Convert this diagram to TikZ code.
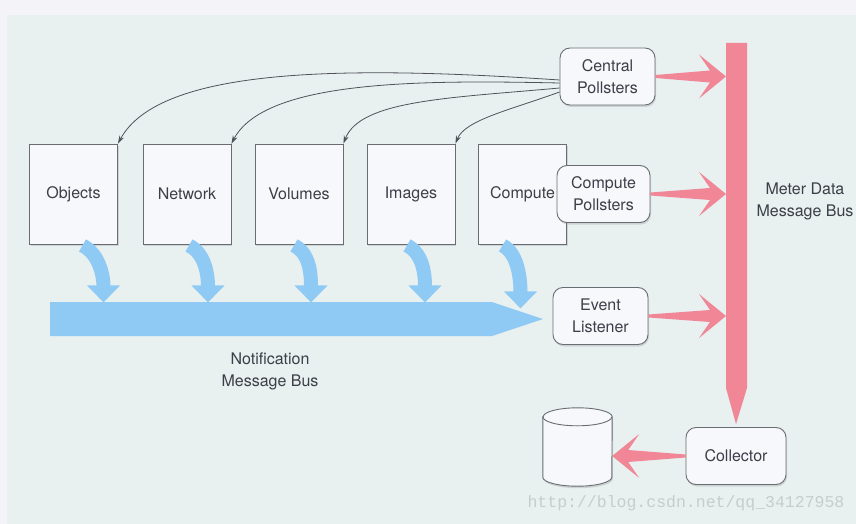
\documentclass[tikz,border=0pt]{standalone}
\usepackage{fontspec}
\setmainfont{TeX Gyre Heros}
\newfontfamily\wmfont{Liberation Mono}
\usetikzlibrary{arrows.meta,calc,shadows}

\definecolor{topbg}{RGB}{243,243,248}
\definecolor{slidebg}{RGB}{232,240,240}
\definecolor{notifblue}{RGB}{143,202,245}
\definecolor{meterred}{RGB}{240,134,150}
\definecolor{boxline}{RGB}{105,108,114}
\definecolor{boxfill}{RGB}{247,248,251}
\definecolor{txtgray}{RGB}{60,62,72}
\definecolor{pollgray}{RGB}{80,82,88}
\definecolor{wmgray}{RGB}{200,204,205}

% fat tapered arrow: from, tip, direction (1 = right, -1 = left)
\newcommand{\fatarrow}[3]{%
  \fill[meterred] ($(#1)+(0,1.5)$) -- ($(#2)+({-16*(#3)},6)$) -- ($(#2)+({-27*(#3)},22)$) -- (#2)
    -- ($(#2)+({-27*(#3)},-22)$) -- ($(#2)+({-16*(#3)},-6)$) -- ($(#1)+(0,-1.5)$) -- cycle;}

\begin{document}
\begin{tikzpicture}[x=1pt,y=1pt,
  font=\fontsize{16}{22}\selectfont, text=txtgray,
  boxshadow/.style={drop shadow={shadow xshift=1pt, shadow yshift=-2pt, opacity=0.25}},
  svcbox/.style={draw=boxline, fill=boxfill, line width=0.9pt, minimum width=88pt,
    minimum height=100pt, inner sep=0pt, boxshadow},
  pollbox/.style={draw=boxline, fill=boxfill, line width=0.9pt, rounded corners=10pt,
    minimum width=95pt, minimum height=57pt, align=center, inner sep=0pt, boxshadow},
  notifarrow/.style={notifblue, line width=14pt, -{Triangle[width=32pt,length=17pt]}},
  pollarrow/.style={draw=pollgray, line width=0.8pt, -{Stealth[length=8pt,width=5pt]}}]

  % Background
  \useasboundingbox (0,0) rectangle (856,-524);
  \fill[topbg] (0,0) rectangle (856,-524);
  \fill[slidebg] (7,-15) rectangle (856,-524);

  % Notification message bus
  \fill[notifblue] (50,-302) -- (492,-302) -- (543,-319) -- (492,-336) -- (50,-336) -- cycle;
  \node (notiflbl) at (270,-371.5) [align=center] {Notification\\Message Bus};

  % Services
  \foreach \nm/\lbl/\x in {obj/Objects/73.5, net/Network/187, vol/Volumes/299,
                           img/Images/411, cmp/Compute/522.5} {
    \node[svcbox] (\nm) at (\x,-194) {\lbl};
  }

  % Notifications onto the bus
  \foreach \nm/\a/\b/\e in {obj/9/30/58, net/2/21/58, vol/-5/12/58,
                            img/-4/14/58, cmp/-20/-2/64} {
    \draw[notifarrow] ($(\nm.south)+(\a,-1)$) .. controls +(16,-8) and +(0,28) ..
      ($(\nm.south)+(\b,-\e)$);
  }

  % Pollsters and listener
  \node[pollbox] (cp) at (607.5,-76.5) {Central\\Pollsters};
  \node[pollbox, minimum width=93pt] (cpp) at (603.5,-194) {Compute\\Pollsters};
  \node[pollbox] (el) at (600.5,-316) {Event\\Listener};
  \node[pollbox, minimum width=100pt] (col) at (736,-456) {Collector};

  % Storage
  \node[minimum width=69pt, minimum height=78pt, inner sep=0pt] (db) at (577.5,-447) {};
  \filldraw[draw=boxline, fill=boxfill, line width=0.9pt, boxshadow]
    ($(db.north west)+(0,-9)$) -- ($(db.south west)+(0,9)$)
    arc[start angle=180, end angle=360, x radius=34.5, y radius=9]
    -- ($(db.north east)+(0,-9)$)
    arc[start angle=0, end angle=180, x radius=34.5, y radius=9] -- cycle;
  \draw[boxline, line width=0.9pt] ($(db.north west)+(0,-9)$)
    arc[start angle=180, end angle=360, x radius=34.5, y radius=9];

  % Central pollsters poll the services
  \draw[pollarrow] ($(cp.west)+(0,-3.5)$) .. controls (350,-66) and (160,-66) .. (obj.north east);
  \draw[pollarrow] ($(cp.west)+(0,-6.5)$) .. controls (420,-80) and (265,-80) .. (net.north east);
  \draw[pollarrow] ($(cp.west)+(0,-11.5)$) .. controls (450,-98) and (360,-100) .. (vol.north east);
  \draw[pollarrow] ($(cp.west)+(0,-15.5)$) .. controls (510,-110) and (465,-120) .. (img.north east);

  % Meter data message bus
  \coordinate (barleft) at (726,0);
  \coordinate (bartip) at ($(col.north)+(0,3)$);
  \fill[meterred] (726,-43) -- (747,-43) -- (747,-388) -- (bartip) -- (726,-388) -- cycle;
  \node (meterlbl) at (805,-201.5) [align=center] {Meter Data\\Message Bus};

  \fatarrow{cp.east}{cp.east -| barleft}{1}
  \fatarrow{cpp.east}{cpp.east -| barleft}{1}
  \fatarrow{el.east}{el.east -| barleft}{1}
  \fatarrow{col.west}{col.west -| db.east}{-1}

  % Watermark
  \node[text=wmgray, font=\wmfont\fontsize{16.5}{18}\selectfont] (wm) at (686,-503)
    {http://blog.csdn.net/qq\_34127958};
\end{tikzpicture}
\end{document}
